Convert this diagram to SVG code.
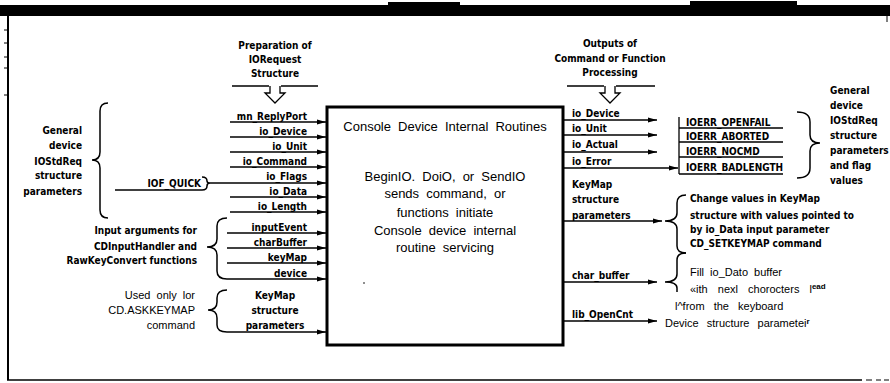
<svg xmlns="http://www.w3.org/2000/svg" width="890" height="383" viewBox="0 0 890 383">
<style>
.p{font-family:"DejaVu Sans Condensed","DejaVu Sans",sans-serif;font-stretch:condensed;font-weight:bold;font-size:10px;fill:#000}
.a{font-family:"Liberation Sans",Arial,sans-serif;font-size:11px;word-spacing:3px;fill:#000}
.m{font-family:"Liberation Sans",Arial,sans-serif;font-size:13px;word-spacing:3.5px;fill:#000;text-anchor:middle}
.e{text-anchor:end}
.c{text-anchor:middle}
.ln{stroke:#000;stroke-width:1.3;fill:none}
.ar{stroke:#000;stroke-width:1.3;fill:none;marker-end:url(#ah)}
.br{stroke:#000;stroke-width:1.5;fill:none}
</style>
<defs>
<marker id="ah" markerUnits="userSpaceOnUse" markerWidth="10" markerHeight="6" refX="9" refY="3" orient="auto">
<path d="M0,0.5 L9,3 L0,5.5 z" fill="#000"/>
</marker>
</defs>
<rect width="890" height="383" fill="#fff"/>
<g id="frame">
<rect x="0" y="5" width="890" height="11" fill="#000"/>
<rect x="388" y="2" width="72" height="4" fill="#000"/>
<rect x="690" y="1" width="107" height="5" fill="#000"/>
<line x1="8" y1="15" x2="8" y2="380" stroke="#000" stroke-width="2"/>
<line x1="7" y1="380" x2="862" y2="380" stroke="#000" stroke-width="1.5"/>
<path d="M866,380 h6 M876,380 h5 M884,380 h5 M887,16 v6" stroke="#000" stroke-width="1"/>
<path d="M4,30 h4 M4,43 h4 M4,57 h4 M4,68 h4 M4,95 h4" stroke="#000" stroke-width="1"/>
</g>
<g id="prep-header">
<text class="p c" x="275" y="49">Preparation of</text>
<text class="p c" x="275" y="63">IORequest</text>
<text class="p c" x="275" y="77">Structure</text>
<path class="ln" d="M232,86 H269 M281,86 H318"/>
<path d="M270,86 V93 H265 L275,103 L285,93 H280 V86" fill="#fff" stroke="#000" stroke-width="1.3"/>
</g>
<g id="outputs-header">
<text class="p c" x="610" y="47">Outputs of</text>
<text class="p c" x="610" y="62">Command or Function</text>
<text class="p c" x="610" y="76">Processing</text>
<path class="ln" d="M567,86 H604 M616,86 H655"/>
<path d="M605,86 V93 H600 L610,103 L620,93 H615 V86" fill="#fff" stroke="#000" stroke-width="1.3"/>
</g>
<g id="main-box">
<rect x="327" y="107" width="236" height="238" fill="#fff" stroke="#000" stroke-width="3"/>
<text class="m" x="445" y="131">Console Device Internal Routines</text>
<text class="m" x="445" y="181">BeginIO. DoiO, or SendIO</text>
<text class="m" x="445" y="198">sends command, or</text>
<text class="m" x="445" y="217">functions initiate</text>
<text class="m" x="445" y="235">Console device internal</text>
<text class="m" x="445" y="252">routine servicing</text>
<circle cx="364" cy="283" r="0.8" fill="#000"/>
</g>
<g id="left-general">
<text class="p e" x="82" y="134">General</text>
<text class="p e" x="82" y="149">device</text>
<text class="p e" x="82" y="165">IOStdReq</text>
<text class="p e" x="82" y="179">structure</text>
<text class="p e" x="82" y="195">parameters</text>
<path class="br" d="M108,103 Q100,103 100,111 L100,152 Q100,160 92,160 Q100,160 100,168 L100,210 Q100,218 108,218"/>
</g>
<g id="iof-quick">
<text class="p e" x="201" y="187">IOF_QUICK</text>
<line class="ln" x1="115" y1="190" x2="202" y2="190"/>
<path class="br" d="M202,177 Q207,177 207,181 Q207,183 210,183 Q207,183 207,186 Q207,190 202,190"/>
</g>
<g id="left-input-args">
<text class="p e" x="197" y="234">Input arguments for</text>
<text class="p e" x="197" y="250">CDInputHandler and</text>
<text class="p e" x="197" y="264">RawKeyConvert functions</text>
<path class="br" d="M227,218 Q217,218 217,226 L217,239 Q217,247 207,247 Q217,247 217,255 L217,271 Q217,279 227,279"/>
</g>
<g id="left-askkeymap">
<text class="a e" x="195" y="299">Used only lor</text>
<text class="a e" x="195" y="314">CD.ASKKEYMAP</text>
<text class="a e" x="195" y="329">command</text>
<path class="br" d="M227,290 Q217,290 217,298 L217,302 Q217,310 208,310 Q217,310 217,318 L217,325 Q217,332 227,332"/>
<text class="p c" x="275" y="299">KeyMap</text>
<text class="p c" x="275" y="314">structure</text>
<text class="p c" x="275" y="329">parameters</text>
</g>
<g id="left-rows">
<text class="p e" x="307" y="120">mn_ReplyPort</text>
<text class="p e" x="307" y="135">io_Device</text>
<text class="p e" x="307" y="150">io_Unit</text>
<text class="p e" x="307" y="165">io_Command</text>
<text class="p e" x="307" y="180">io_Flags</text>
<text class="p e" x="307" y="195">io_Data</text>
<text class="p e" x="307" y="210">io_Length</text>
<text class="p e" x="307" y="231">inputEvent</text>
<text class="p e" x="307" y="246">charBuffer</text>
<text class="p e" x="307" y="261">keyMap</text>
<text class="p e" x="307" y="277">device</text>
</g>
<g id="right-rows">
<text class="p" x="572" y="117">io_Device</text>
<text class="p" x="572" y="132">io_Unit</text>
<text class="p" x="572" y="148">io_Actual</text>
<text class="p" x="572" y="165">io_Error</text>
<text class="p" x="572" y="188">KeyMap</text>
<text class="p" x="572" y="203">structure</text>
<text class="p" x="572" y="219">parameters</text>
<text class="p" x="572" y="279">char_buffer</text>
<text class="p" x="572" y="318">lib_OpenCnt</text>
</g>
<g id="ioerr-box">
<path class="ln" d="M679,117 V174 M679,128 H783 M679,142 H783 M679,157 H783 M679,174 H783"/>
<text class="p" x="686" y="126">IOERR_OPENFAIL</text>
<text class="p" x="686" y="140">IOERR_ABORTED</text>
<text class="p" x="686" y="155">IOERR_NOCMD</text>
<text class="p" x="686" y="171">IOERR_BADLENGTH</text>
<path class="br" d="M797,112 Q810,112 810,122 L810,135 Q810,143 820,143 Q810,143 810,151 L810,168 Q810,178 797,178"/>
</g>
<g id="right-general">
<text class="p" x="830" y="94">General</text>
<text class="p" x="830" y="109">device</text>
<text class="p" x="830" y="124">IOStdReq</text>
<text class="p" x="830" y="139">structure</text>
<text class="p" x="830" y="154">parameters</text>
<text class="p" x="830" y="169">and flag</text>
<text class="p" x="830" y="184">values</text>
</g>
<g id="right-keymap-note">
<path class="br" d="M686,195 Q677,195 677,203 L677,213 Q677,221 665,221 Q677,221 677,229 L677,246 Q677,253 686,253"/>
<text class="p" x="690" y="202">Change values in KeyMap</text>
<text class="p" x="690" y="219">structure with values pointed to</text>
<text class="p" x="690" y="233">by io_Data input parameter</text>
<text class="p" x="690" y="247">CD_SETKEYMAP command</text>
</g>
<g id="right-fill-note">
<path class="br" d="M686,253 Q677,253 677,260 L677,274 Q677,282 665,282 Q677,282 677,288 L677,292"/>
<text class="a" x="690" y="276">Fill io_Dato buffer</text>
<text class="a" x="690" y="293" style="word-spacing:7px">«ith nexl chorocters l<tspan font-weight="bold" font-size="8" dy="-4" style="word-spacing:0">ead</tspan></text>
<text class="a" x="675" y="310" style="word-spacing:6px">l^from the keyboard</text>
<text class="a" x="665" y="327" style="word-spacing:5px">Device structure parametei<tspan font-weight="bold" font-size="8" dy="-3">r</tspan></text>
</g>
<g id="connectors">
<line class="ar" x1="230" y1="122" x2="326" y2="122"/>
<line class="ar" x1="230" y1="137" x2="326" y2="137"/>
<line class="ar" x1="230" y1="152" x2="326" y2="152"/>
<line class="ar" x1="230" y1="167" x2="326" y2="167"/>
<line class="ar" x1="210" y1="183" x2="326" y2="183"/>
<line class="ar" x1="230" y1="197" x2="326" y2="197"/>
<line class="ar" x1="230" y1="212" x2="326" y2="212"/>
<line class="ar" x1="227" y1="233" x2="326" y2="233"/>
<line class="ar" x1="227" y1="248" x2="326" y2="248"/>
<line class="ar" x1="227" y1="263" x2="326" y2="263"/>
<line class="ar" x1="227" y1="279" x2="326" y2="279"/>
<line class="ar" x1="227" y1="332" x2="326" y2="332"/>
<line class="ar" x1="564" y1="120" x2="657" y2="120"/>
<line class="ar" x1="564" y1="135" x2="657" y2="135"/>
<line class="ar" x1="564" y1="152" x2="657" y2="152"/>
<line class="ar" x1="564" y1="168" x2="678" y2="168"/>
<line class="ar" x1="564" y1="221" x2="662" y2="221"/>
<line class="ar" x1="564" y1="282" x2="657" y2="282"/>
<line class="ar" x1="564" y1="321" x2="657" y2="321"/>
</g>
</svg>
